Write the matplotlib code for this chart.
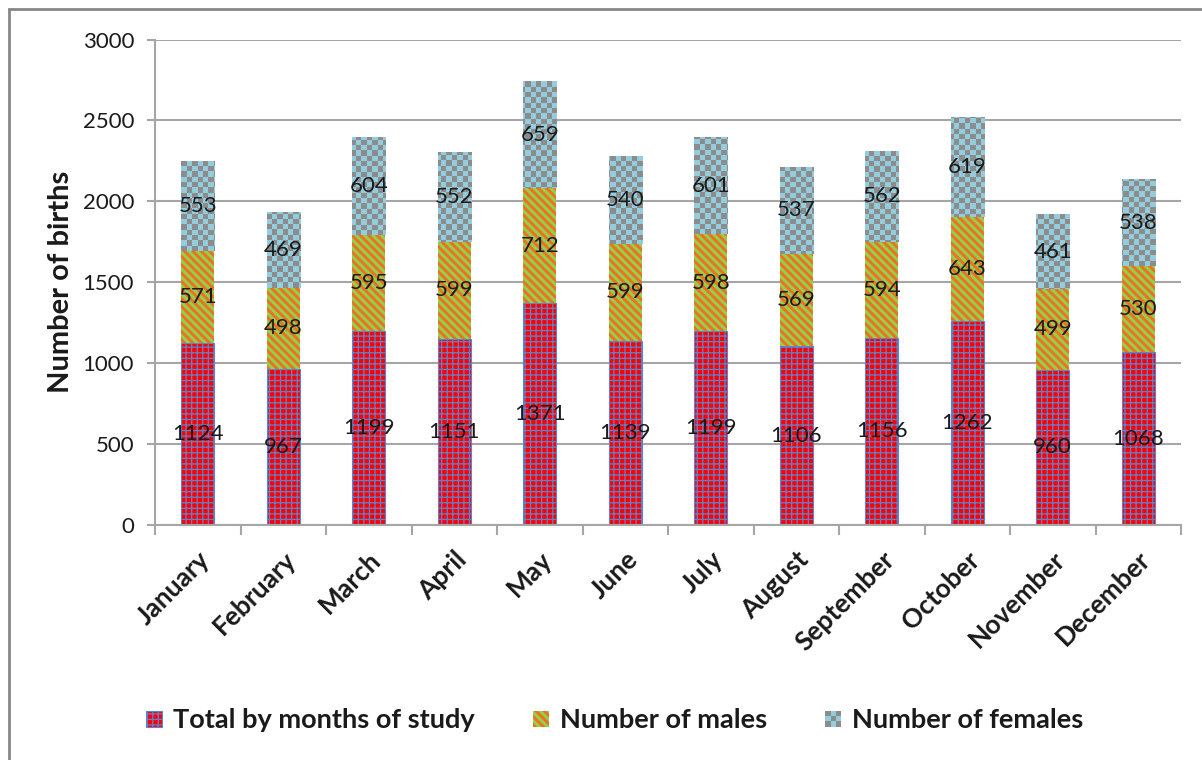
import numpy as np
import matplotlib
matplotlib.use("Agg")
import matplotlib.pyplot as plt
from matplotlib.patches import Rectangle
from matplotlib.legend_handler import HandlerBase
from matplotlib.colors import ListedColormap

plt.rcParams['font.family'] = ['Lato', 'DejaVu Sans']

months = ["January", "February", "March", "April", "May", "June", "July",
          "August", "September", "October", "November", "December"]
total_by_month = [1124, 967, 1199, 1151, 1371, 1139, 1199, 1106, 1156, 1262, 960, 1068]
males = [571, 498, 595, 599, 712, 599, 598, 569, 594, 643, 499, 530]
females = [553, 469, 604, 552, 659, 540, 601, 537, 562, 619, 461, 538]
yticks = [0, 500, 1000, 1500, 2000, 2500, 3000]

series_names = ["Total by months of study", "Number of males", "Number of females"]

RED, GRID_BLUE = "#FF0000", "#5B84D0"
GREEN, ORANGE = "#92D050", "#F0701E"
LIGHT_BLUE, CHECK_GRAY = "#93CDDD", "#8C8C8C"
TXT = "#1A1A1A"

fig = plt.figure(figsize=(12.02, 7.6), dpi=100)
W, H = 1202, 760
ax = fig.add_axes([155 / W, 1 - 525 / H, (1181 - 155) / W, (525 - 39.5) / H])

x = np.arange(len(months))
width = 0.39
bottom2 = np.array(total_by_month)
bottom3 = bottom2 + np.array(males)


def set_hatch_lw(patches, lw):
    for p in patches:
        if hasattr(p, "set_hatch_linewidth"):
            p.set_hatch_linewidth(lw)


plt.rcParams['hatch.linewidth'] = 0.9
b1 = ax.bar(x, total_by_month, width, color=RED, edgecolor=GRID_BLUE,
            hatch="+++", linewidth=0.8, zorder=2)
set_hatch_lw(b1, 0.9)

plt.rcParams['hatch.linewidth'] = 2.1
b2 = ax.bar(x, males, width, bottom=bottom2, color=GREEN, edgecolor=ORANGE,
            hatch="\\\\\\\\", linewidth=0, zorder=2)
set_hatch_lw(b2, 2.1)

b3 = ax.bar(x, females, width, bottom=bottom3, color=LIGHT_BLUE,
            edgecolor="none", linewidth=0, zorder=2)

ax.set_xlim(-0.5, len(months) - 0.5)
ax.set_ylim(0, 3000)

# checkerboard texture clipped to the female segments
ncols, nrows = 194, 92
checker = (np.add.outer(np.arange(nrows), np.arange(ncols)) % 2).astype(float)
cmap = ListedColormap([LIGHT_BLUE, CHECK_GRAY])
for p in b3:
    im = ax.imshow(checker, cmap=cmap, interpolation="nearest", aspect="auto",
                   extent=(-0.5, len(months) - 0.5, 0, 3000), origin="lower",
                   zorder=2.1)
    im.set_clip_path(p)
ax.set_xlim(-0.5, len(months) - 0.5)
ax.set_ylim(0, 3000)
ax.set_aspect("auto")

# value labels at the centre of each segment
for cont in (b1, b2, b3):
    ax.bar_label(cont, labels=[f"{int(v)}" for v in cont.datavalues],
                 label_type="center", fontsize=16, color=TXT, zorder=5)

# axes styling
ax.set_yticks(yticks)
ax.yaxis.grid(True, color="#A6A6A6", linewidth=1.5, zorder=0)
ax.set_axisbelow(True)
for s in ("top", "right"):
    ax.spines[s].set_visible(False)
for s in ("left", "bottom"):
    ax.spines[s].set_color("#A6A6A6")
    ax.spines[s].set_linewidth(1.5)
ax.tick_params(axis="y", length=6, width=1.5, color="#A6A6A6", labelsize=16,
               labelcolor=TXT, pad=9)
ax.set_xticks(np.arange(len(months) + 1) - 0.5, minor=False)
ax.set_xticklabels([])
ax.tick_params(axis="x", length=7, width=1.5, color="#A6A6A6", direction="out")
ax.set_xticks(x, minor=True)
ax.set_xticklabels(months, minor=True, rotation=45, ha="right",
                   rotation_mode="anchor", fontsize=19, fontweight="bold",
                   color=TXT)
ax.tick_params(axis="x", which="minor", length=0, pad=16)

ax.set_ylabel("Number of births", fontsize=21, fontweight="bold", color=TXT,
              va="center")
ax.yaxis.set_label_coords(-0.092, 0.5)


class SquareHandler(HandlerBase):
    def create_artists(self, legend, orig_handle, xdescent, ydescent, width,
                       height, fontsize, trans):
        side = 16 * 72 / 100
        x0 = -xdescent + (width - side) / 2
        y0 = -ydescent + (height - side) / 2
        if orig_handle is b3:
            n = 3
            cell = side / n
            arts = []
            for i in range(n):
                for j in range(n):
                    c = LIGHT_BLUE if (i + j) % 2 else CHECK_GRAY
                    arts.append(Rectangle((x0 + i * cell, y0 + j * cell), cell,
                                          cell, facecolor=c, edgecolor="none",
                                          transform=trans))
            return arts
        p = orig_handle.patches[0]
        r = Rectangle((x0, y0), side, side, facecolor=p.get_facecolor(),
                      edgecolor=p.get_edgecolor(), hatch=p.get_hatch(),
                      linewidth=p.get_linewidth(), transform=trans)
        if hasattr(r, "set_hatch_linewidth") and hasattr(p, "get_hatch_linewidth"):
            r.set_hatch_linewidth(p.get_hatch_linewidth())
        return [r]


h = SquareHandler()
fig.legend([b1, b2, b3], series_names, loc="center",
           bbox_to_anchor=(614 / W, 1 - 720 / H), ncol=3, frameon=False,
           prop={"size": 19.5, "weight": "bold"}, handler_map={b1: h, b2: h, b3: h},
           handlelength=0.7, handletextpad=0.35, columnspacing=2.1)
for t in fig.legends[0].get_texts():
    t.set_color(TXT)

# outer chart border
fig.patches.append(Rectangle((9 / W, -0.05), 1.1, 1 - 9 / H + 0.05,
                             transform=fig.transFigure, fill=False,
                             edgecolor="#868686", linewidth=2))

fig.savefig("out.png", dpi=100)
